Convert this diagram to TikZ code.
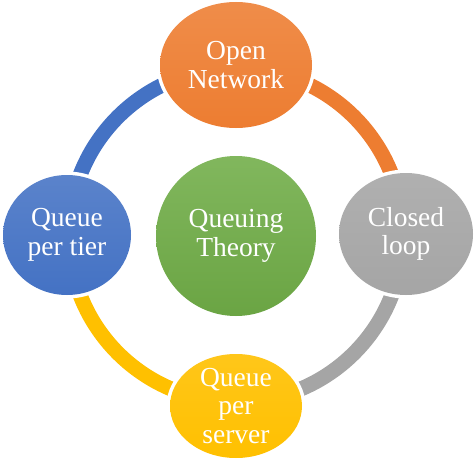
\documentclass[tikz,border=0pt]{standalone}
\usepackage{fontspec}
\setmainfont{Liberation Serif}
\usetikzlibrary{shapes.geometric}
\definecolor{cOrange}{HTML}{ED7D31}
\definecolor{cGray}{HTML}{A5A5A5}
\definecolor{cBlue}{HTML}{4472C4}
\definecolor{cYellow}{HTML}{FFC000}
\definecolor{cGreen}{HTML}{70AD47}
\tikzset{
  ring/.style={line width=15pt},
  bubble/.style={ellipse, inner sep=0pt, preaction={draw=white, line width=7pt}},
  lbl/.style={text=white, align=center, inner sep=0pt,
    font=\fontsize{27.5pt}{28.5pt}\selectfont},
}
\begin{document}
\begin{tikzpicture}[x=1pt,y=1pt]
\useasboundingbox (0,0) rectangle (474,459);
\coordinate (rc) at (236,224);
% ring arcs
\draw[ring, cOrange] ([shift={(90:167)}]rc) arc[start angle=90, end angle=0, radius=167];
\draw[ring, cGray] ([shift={(0:167)}]rc) arc[start angle=0, end angle=-90, radius=167];
\draw[ring, cYellow] ([shift={(-90:167)}]rc) arc[start angle=-90, end angle=-180, radius=167];
\draw[ring, cBlue] ([shift={(180:167)}]rc) arc[start angle=180, end angle=90, radius=167];
% bubbles
\node[bubble, minimum width=152pt, minimum height=126pt, top color=cOrange!88!white, bottom color=cOrange] (open) at (236,394) {};
\node[bubble, minimum width=128pt, minimum height=120pt, top color=cBlue!88!white, bottom color=cBlue] (tier) at (67,224) {};
\node[bubble, minimum width=134pt, minimum height=122pt, top color=cGray!88!white, bottom color=cGray] (closed) at (406,225) {};
\node[bubble, minimum width=132pt, minimum height=104pt, top color=cYellow!90!white, bottom color=cYellow] (server) at (236,53) {};
\node[bubble, minimum width=160pt, minimum height=160pt, top color=cGreen!88!white, bottom color=cGreen!95!black] (theory) at (236,223) {};
% labels
\node[lbl] (topen) at (open.center) {Open\\Network};
\node[lbl] (ttier) at (tier.center) {Queue\\per tier};
\node[lbl] (tclosed) at (closed.center) {Closed\\loop};
\node[lbl] (tserver) at (server.center) {Queue\\per\\server};
\node[lbl] (ttheory) at (theory.center) {Queuing\\Theory};
\end{tikzpicture}
\end{document}
